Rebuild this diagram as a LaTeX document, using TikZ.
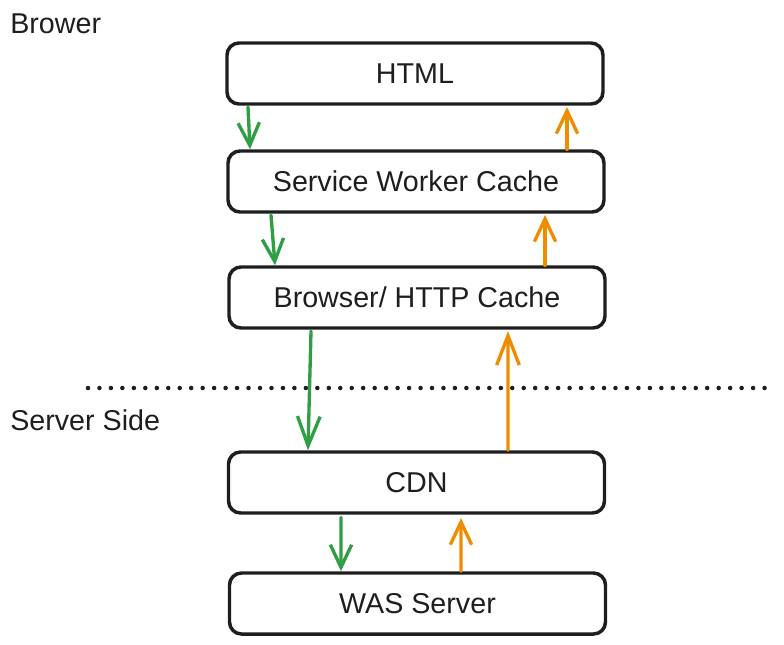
\documentclass[tikz,border=0pt]{standalone}
\usepackage{fontspec}
\setmainfont{Liberation Sans}
\usetikzlibrary{arrows.meta}
\definecolor{ink}{HTML}{1E1E1E}
\definecolor{exgreen}{HTML}{2F9E44}
\definecolor{exorange}{HTML}{F08C00}
\begin{document}
\begin{tikzpicture}[x=0.75pt,y=-0.75pt,
  layerbox/.style={draw=ink, line width=2.6pt, rounded corners=9pt, fill=white,
    minimum width=282pt, minimum height=45.75pt, inner sep=0pt,
    font=\fontsize{21.5}{26}\selectfont, text=ink},
  sidelabel/.style={anchor=west, inner sep=0pt, font=\fontsize{21.5}{26}\selectfont, text=ink},
  reqarrow/.style={draw=exgreen, line width=2.5pt, line cap=round,
    -{Straight Barb[length=17pt,width=16pt,line width=2.5pt]}},
  resarrow/.style={draw=exorange, line width=2.5pt, line cap=round,
    -{Straight Barb[length=17pt,width=16pt,line width=2.5pt]}},
  longhead/.style={-{Straight Barb[length=22pt,width=17pt,line width=2.5pt]}},
  sepline/.style={draw=ink, line width=3.4pt, line cap=round, dash pattern=on 0pt off 8.6pt}]
\useasboundingbox (0,0) rectangle (784,644);

\node[sidelabel] (brower) at (10,24) {Brower};
\node[sidelabel] (server) at (10,420) {Server Side};

\node[layerbox] (html) at (415,73.5) {HTML};
\node[layerbox] (swc) at (416,181.5) {Service Worker Cache};
\node[layerbox] (bhc) at (417,297.5) {Browser/ HTTP Cache};
\node[layerbox] (cdn) at (416.5,482.5) {CDN};
\node[layerbox] (was) at (417.5,603.5) {WAS Server};

\coordinate (sepL) at (88,388);
\coordinate (sepR) at (770,388);
\draw[sepline] (sepL) -- (sepR);

% requests (green, downward)
\draw[reqarrow] ([xshift=-125.25pt,yshift=-1pt]html.south) -- ([xshift=-124.5pt]swc.north);
\draw[reqarrow] ([xshift=-108.75pt,yshift=-1pt]swc.south) -- ([xshift=-106.5pt]bhc.north);
\draw[reqarrow,longhead] ([xshift=-79.5pt,yshift=-1pt]bhc.south) -- ([xshift=-81.4pt]cdn.north);
\draw[reqarrow] ([xshift=-56.6pt,yshift=-2pt]cdn.south) -- ([xshift=-57.4pt]was.north);

% responses (orange, upward)
\draw[resarrow] ([xshift=113.25pt]swc.north) -- ([xshift=114pt,yshift=-1pt]html.south);
\draw[resarrow] ([xshift=96pt]bhc.north) -- ([xshift=96.75pt,yshift=-1pt]swc.south);
\draw[resarrow,longhead] ([xshift=68.6pt]cdn.north) -- ([xshift=68.25pt,yshift=-1pt]bhc.south);
\draw[resarrow] ([xshift=32.6pt]was.north) -- ([xshift=33.4pt,yshift=-2.5pt]cdn.south);
\end{tikzpicture}
\end{document}
